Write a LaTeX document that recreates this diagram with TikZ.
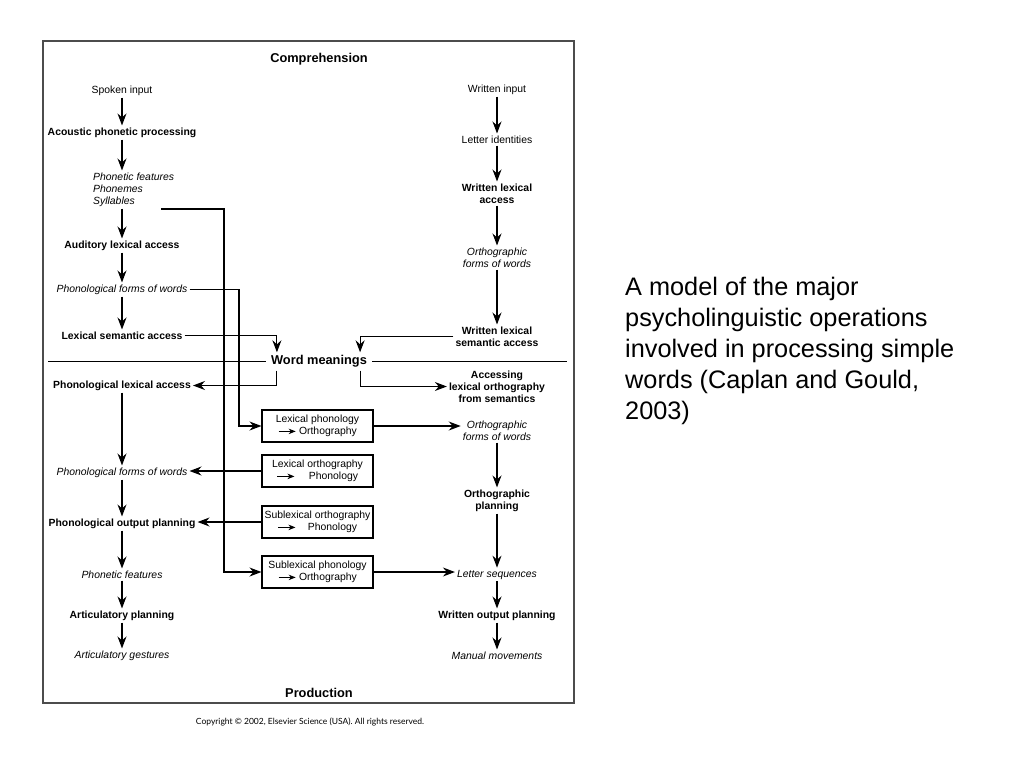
\documentclass[tikz,border=0pt]{standalone}
\usepackage{fontspec}
\setmainfont{Liberation Sans}
\newfontfamily\copyfont{Lato}
\usetikzlibrary{arrows.meta,positioning}

\newcommand{\smallarrow}{\tikz[baseline=-0.6ex]\draw[line width=1pt,-{Stealth[length=7pt,width=5.5pt,inset=2.2pt]}] (0pt,0pt) -- (17pt,0pt);}

\tikzset{
  txt/.style={font=\fontsize{10.4}{12}\selectfont, align=center, inner sep=2pt, yshift=-1.5pt},
  bld/.style={txt, font=\fontsize{10.4}{12}\selectfont\bfseries},
  itl/.style={txt, font=\fontsize{10.4}{12}\selectfont\itshape},
  head/.style={font=\fontsize{12.8}{15}\selectfont\bfseries, yshift=-1.5pt},
  procbox/.style={txt, draw, line width=1.1pt, minimum width=111pt, minimum height=32pt, yshift=1.5pt},
  arr/.style={line width=1.1pt, -{Stealth[length=12pt,width=9pt,inset=4pt]}},
  ln/.style={line width=1.1pt},
}

\begin{document}
\begin{tikzpicture}[x=1pt,y=-1pt]
\useasboundingbox (0,0) rectangle (1024,768);
\draw[line width=1.8pt, black!70] (43,41) rectangle (574,703);

\node[head] (comp) at (319,58) {Comprehension};
\node[head] (prod) at (319,691) {Production};
\node[head, inner xsep=5pt, inner ysep=3pt] (wm) at (319,360) {Word meanings};

% spoken side
\node[txt] (spoken) at (122,89) {Spoken input};
\node[bld] (acou) at (122,131) {Acoustic phonetic processing};
\node[itl, align=left, anchor=west] (feat) at (91,188) {Phonetic features\\Phonemes\\Syllables};
\node[bld] (aud) at (122,244) {Auditory lexical access};
\node[itl] (pfwa) at (122,288) {Phonological forms of words};
\node[bld] (lsa) at (122,334) {Lexical semantic access};

% written side
\node[txt] (wi) at (497,88) {Written input};
\node[txt] (li) at (497,138) {Letter identities};
\node[bld] (wla) at (497,192) {Written lexical\\access};
\node[itl] (ofwa) at (497,256) {Orthographic\\forms of words};
\node[bld] (wlsa) at (497,335) {Written lexical\\semantic access};

% production
\node[bld] (pla) at (122,384) {Phonological lexical access};
\node[itl] (pfwb) at (122,471) {Phonological forms of words};
\node[bld] (pop) at (122,522) {Phonological output planning};
\node[itl] (pf) at (122,573) {Phonetic features};
\node[bld] (ap) at (122,614) {Articulatory planning};
\node[itl] (ag) at (122,654) {Articulatory gestures};

\node[bld] (alo) at (497,385) {Accessing\\lexical orthography\\from semantics};
\node[itl] (ofwb) at (497,429) {Orthographic\\forms of words};
\node[bld] (op) at (497,499) {Orthographic\\planning};
\node[itl] (ls) at (497,573) {Letter sequences};
\node[bld] (wop) at (497,614) {Written output planning};
\node[itl] (mm) at (497,654) {Manual movements};

\node[procbox] (lpo) at (317.5,426) {Lexical phonology\\\smallarrow\ Orthography};
\node[procbox] (lop) at (317.5,471) {Lexical orthography\\\smallarrow\hspace{14pt}Phonology};
\node[procbox] (sop) at (317.5,522) {Sublexical orthography\\\smallarrow\hspace{12pt}Phonology};
\node[procbox] (spo) at (317.5,572) {Sublexical phonology\\\smallarrow\ Orthography};

\foreach \a/\b in {spoken/acou, aud/pfwa, pfwa/lsa, wi/li, li/wla, wla/ofwa, ofwa/wlsa,
                   pla/pfwb, pfwb/pop, pop/pf, pf/ap, ap/ag, ofwb/op, op/ls, ls/wop, wop/mm}
  \draw[arr] (\a) -- (\b);
\draw[arr] (acou) -- (acou |- feat.north);
\draw[arr] (aud |- feat.south) -- (aud);

% divider
\coordinate (divl) at (48,0);
\coordinate (divr) at (567,0);
\draw[ln] (wm.west -| divl) -- (wm.west);
\draw[ln] (wm.east) -- (wm.east -| divr);

\draw[arr] (lsa) -| ([xshift=11pt]wm.north west);
\draw[arr] (wlsa) -| ([xshift=-12pt]wm.north east);
\draw[arr] ([xshift=11pt]wm.south west) |- (pla);
\draw[arr] ([xshift=-12pt]wm.south east) |- (alo);

% routes to the boxes
\coordinate (sylend) at (161,209);
\coordinate (busa) at (224,572);
\coordinate (busb) at (239,426);
\draw[arr] (sylend) -| (busa) -- (spo);
\draw[arr] (pfwa) -| (busb) -- (lpo);
\draw[arr] (lpo) -- (lpo -| ofwb.west);
\draw[arr] (spo) -- (spo -| ls.west);
\draw[arr] (lop) -- (lop -| pfwb.east);
\draw[arr] (sop) -- (sop -| pop.east);

\node[font=\fontsize{25.3}{31}\selectfont, align=left, anchor=north west, inner sep=0pt] (cap) at (625,277)
  {A model of the major\\psycholinguistic operations\\involved in processing simple\\words (Caplan and Gould,\\2003)};
\node[font=\copyfont\fontsize{8.5}{10}\selectfont] (copy) at (310,722)
  {Copyright © 2002, Elsevier Science (USA). All rights reserved.};
\end{tikzpicture}
\end{document}
